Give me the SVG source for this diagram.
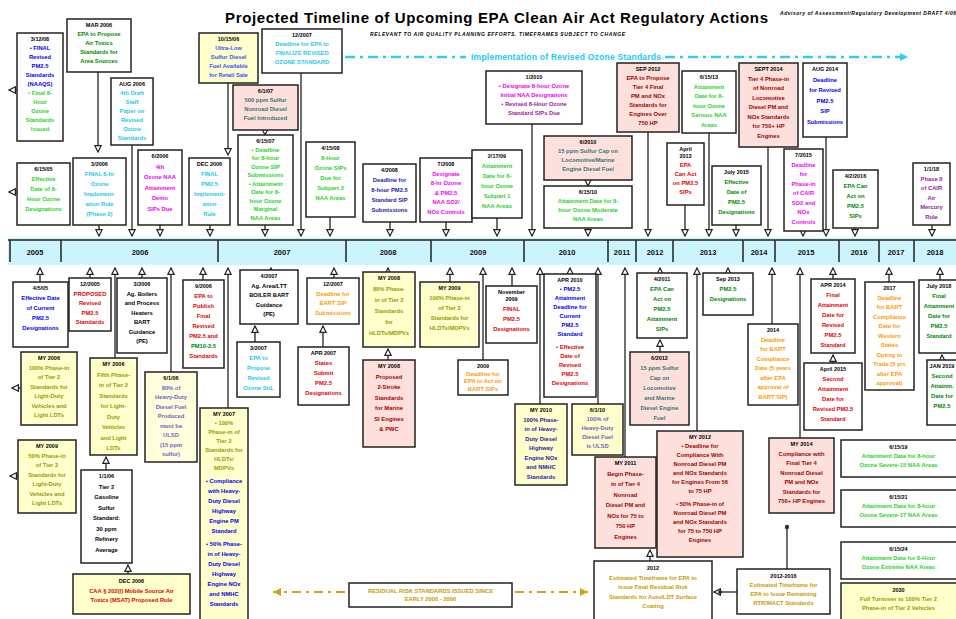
<svg xmlns="http://www.w3.org/2000/svg" width="956" height="619" viewBox="0 0 956 619">
<style>
.bx{fill:#fff;stroke:#222;stroke-width:1.5}
.yl{fill:#ffffcc}
.ly{fill:#ffffdc}
.pk{fill:#fde0dc}
text{font-family:"Liberation Sans",Arial,sans-serif;font-weight:bold;text-anchor:middle;font-size:5.8px}
.h{fill:#000;font-size:5.5px}
.blk{fill:#000}.blu{fill:#0000ee}.bl2{fill:#3355ff}.nav{fill:#1a1aaa}.grn{fill:#1fd41f}.dgn{fill:#008800}.cyn{fill:#22c8ee}.mag{fill:#ee00ee}.red{fill:#e00000}.drd{fill:#a00000}.org{fill:#ff9900}.olv{fill:#999900}.pur{fill:#992299}.tea{fill:#337777}.gld{fill:#c99a00}.slb{fill:#6666cc}
.yr{font-size:7.5px;fill:#111}
.cn{fill:none;stroke:#333;stroke-width:1.4}
</style>
<defs>
<marker id="ah" viewBox="0 0 10 10" refX="9" refY="5" markerWidth="8" markerHeight="8" markerUnits="userSpaceOnUse" orient="auto"><path d="M1,1 L9,5 L1,9 Z" fill="#fff" stroke="#222" stroke-width="1.5"/></marker>
<marker id="ag" viewBox="0 0 10 10" refX="9" refY="5" markerWidth="10" markerHeight="10" markerUnits="userSpaceOnUse" orient="auto"><path d="M1,1 L9,5 L1,9 Z" fill="#d4a017"/></marker>
<marker id="ac" viewBox="0 0 10 10" refX="9" refY="5" markerWidth="10" markerHeight="10" markerUnits="userSpaceOnUse" orient="auto"><path d="M1,1 L9,5 L1,9 Z" fill="#33ccee"/></marker>
</defs>
<rect width="956" height="619" fill="#fff"/>
<text x="225" y="23" style="font-size:15px;text-anchor:start" textLength="543" class="blk">Projected Timeline of Upcoming EPA Clean Air Act Regulatory Actions</text>
<text x="780" y="15" style="font-size:5px;text-anchor:start;font-style:italic" textLength="176" class="blk">Advisory of Assessment/Regulatory Development DRAFT 4/06</text>
<text x="370" y="36" style="font-size:5px;text-anchor:start;font-style:italic" textLength="255" class="blk">RELEVANT TO AIR QUALITY PLANNING EFFORTS.   TIMEFRAMES SUBJECT TO CHANGE</text>
<g id="ozone-impl">
<path d="M345,57 H466" stroke="#33ccee" stroke-width="2.5" stroke-dasharray="10 5 3 5" fill="none"/>
<text x="566" y="60" style="font-size:8.5px" class="cyn" textLength="190">Implementation of Revised Ozone Standards</text>
<path d="M665,57 H908" stroke="#33ccee" stroke-width="2.5" stroke-dasharray="10 5 3 5" fill="none" marker-end="url(#ac)"/>
</g>
<g id="timeline">
<rect x="8" y="238" width="948" height="27" fill="#ccf4fc"/>
<path d="M8,240 H956 M10,240 V262 M61,240 V262 M218,240 V262 M346,240 V262 M431,240 V262 M524,240 V262 M608,240 V262 M636,240 V262 M673,240 V262 M743,240 V262 M775,240 V262 M839,240 V262 M879,240 V262 M914,240 V262" stroke="#222" stroke-width="1.5" fill="none"/>
<text class="yr" x="35" y="255">2005</text><text class="yr" x="140" y="255">2006</text><text class="yr" x="282" y="255">2007</text><text class="yr" x="388" y="255">2008</text><text class="yr" x="478" y="255">2009</text><text class="yr" x="567" y="255">2010</text><text class="yr" x="622" y="255">2011</text><text class="yr" x="655" y="255">2012</text><text class="yr" x="708" y="255">2013</text><text class="yr" x="759" y="255">2014</text><text class="yr" x="806" y="255">2015</text><text class="yr" x="859" y="255">2016</text><text class="yr" x="896" y="255">2017</text><text class="yr" x="935" y="255">2018</text>
</g>
<g id="connectors">
<path class="cn" marker-end="url(#ah)" d="M98,72 V152"/>
<path class="cn" marker-end="url(#ah)" d="M99,225 V236"/>
<path class="cn" marker-end="url(#ah)" d="M132,145 V236"/>
<path class="cn" marker-end="url(#ah)" d="M160,225 V236"/>
<path class="cn" marker-end="url(#ah)" d="M210,225 V236"/>
<path class="cn" marker-end="url(#ah)" d="M228,83 V155"/>
<path class="cn" marker-end="url(#ah)" d="M265,130 V135"/>
<path class="cn" marker-end="url(#ah)" d="M265,225 V236"/>
<path class="cn" marker-end="url(#ah)" d="M301,73 V236"/>
<path class="cn" marker-end="url(#ah)" d="M330,217 V236"/>
<path class="cn" marker-end="url(#ah)" d="M390,222 V236"/>
<path class="cn" marker-end="url(#ah)" d="M446,222 V236"/>
<path class="cn" marker-end="url(#ah)" d="M497,218 V236"/>
<path class="cn" marker-end="url(#ah)" d="M532,124 V236"/>
<path class="cn" marker-end="url(#ah)" d="M588,180 V186"/>
<path class="cn" marker-end="url(#ah)" d="M588,228 V236"/>
<path class="cn" marker-end="url(#ah)" d="M648,132 V236"/>
<path class="cn" marker-end="url(#ah)" d="M685,205 V236"/>
<path class="cn" marker-end="url(#ah)" d="M709,133 V236"/>
<path class="cn" marker-end="url(#ah)" d="M736,225 V236"/>
<path class="cn" marker-end="url(#ah)" d="M768,147 V236"/>
<path class="cn" marker-end="url(#ah)" d="M803,231 V236"/>
<path class="cn" marker-end="url(#ah)" d="M826,137 V236"/>
<path class="cn" marker-end="url(#ah)" d="M855,228 V236"/>
<path class="cn" marker-end="url(#ah)" d="M932,225 V236"/>
<path class="cn" marker-end="url(#ah)" d="M17,90 H9"/>
<path class="cn" marker-end="url(#ah)" d="M17,192 H9"/>
<path class="cn" marker-end="url(#ah)" d="M21,388 H12"/>
<path class="cn" marker-end="url(#ah)" d="M18,476 H10"/>
<path class="cn" marker-end="url(#ah)" d="M40,282 V268"/>
<path class="cn" marker-end="url(#ah)" d="M90,278 V268"/>
<path class="cn" marker-end="url(#ah)" d="M115,358 V268"/>
<path class="cn" marker-end="url(#ah)" d="M142,278 V268"/>
<path class="cn" marker-end="url(#ah)" d="M171,372 V268"/>
<path class="cn" marker-end="url(#ah)" d="M203,280 V268"/>
<path class="cn" marker-end="url(#ah)" d="M228,408 V268"/>
<path class="cn" marker-end="url(#ah)" d="M271,270 V268"/>
<path class="cn" marker-end="url(#ah)" d="M255,342 V326"/>
<path class="cn" marker-end="url(#ah)" d="M323,347 V326"/>
<path class="cn" marker-end="url(#ah)" d="M334,278 V268"/>
<path class="cn" marker-end="url(#ah)" d="M388,272 V268"/>
<path class="cn" marker-end="url(#ah)" d="M388,360 V349"/>
<path class="cn" marker-end="url(#ah)" d="M450,282 V268"/>
<path class="cn" marker-end="url(#ah)" d="M483,360 V268"/>
<path class="cn" marker-end="url(#ah)" d="M512,286 V268"/>
<path class="cn" marker-end="url(#ah)" d="M540,404 V268"/>
<path class="cn" marker-end="url(#ah)" d="M570,274 V268"/>
<path class="cn" marker-end="url(#ah)" d="M598,404 V268"/>
<path class="cn" marker-end="url(#ah)" d="M625,457 V268"/>
<path class="cn" marker-end="url(#ah)" d="M660,273 V268"/>
<path class="cn" marker-end="url(#ah)" d="M660,352 V340"/>
<path class="cn" marker-end="url(#ah)" d="M697,431 V268"/>
<path class="cn" marker-end="url(#ah)" d="M728,273 V268"/>
<path class="cn" marker-end="url(#ah)" d="M772,324 V268"/>
<path class="cn" marker-end="url(#ah)" d="M800,438 V268"/>
<path class="cn" marker-end="url(#ah)" d="M833,279 V268"/>
<path class="cn" marker-end="url(#ah)" d="M833,363 V355"/>
<path class="cn" marker-end="url(#ah)" d="M889,282 V268"/>
<path class="cn" marker-end="url(#ah)" d="M940,280 V268"/>
<path class="cn" marker-end="url(#ah)" d="M942,360 V355"/>
<path class="cn" marker-end="url(#ah)" d="M106,470 V457"/>
<path class="cn" marker-end="url(#ah)" d="M128,574 V565"/>
<path class="cn" marker-end="url(#ah)" d="M650,561 V550"/>
<path class="cn" d="M787,569 V527"/>
<circle cx="787" cy="527" r="2.2" fill="#333"/>
<path class="cn" marker-end="url(#ah)" d="M737,592 H714"/>
<circle cx="720" cy="592" r="2" fill="#333"/>
<path d="M345,592 H273" fill="none" stroke="#d4a017" stroke-width="2" stroke-dasharray="9 5 3 5" marker-end="url(#ag)"/>
<path d="M515,592 H588" fill="none" stroke="#d4a017" stroke-width="2" stroke-dasharray="9 5 3 5" marker-end="url(#ag)"/>
</g>
<g id="t1"><rect class="bx" x="17" y="33" width="46" height="108"/><text x="40" y="41"><tspan class="h">3/12/08</tspan><tspan class="blu" x="40" dy="9">• FINAL</tspan><tspan class="blu" x="40" dy="9">Revised</tspan><tspan class="blu" x="40" dy="9">PM2.5</tspan><tspan class="blu" x="40" dy="9">Standards</tspan><tspan class="blu" x="40" dy="9">(NAAQS)</tspan><tspan class="grn" x="40" dy="9">• Final 8-</tspan><tspan class="grn" x="40" dy="9">Hour</tspan><tspan class="grn" x="40" dy="9">Ozone</tspan><tspan class="grn" x="40" dy="9">Standards</tspan><tspan class="grn" x="40" dy="9">Issued</tspan></text></g>
<g id="t2"><rect class="bx" x="67" y="19" width="64" height="53"/><text x="99" y="27"><tspan class="h">MAR 2006</tspan><tspan class="dgn" x="99" dy="9">EPA to Propose</tspan><tspan class="dgn" x="99" dy="9">Air Toxics</tspan><tspan class="dgn" x="99" dy="9">Standards for</tspan><tspan class="dgn" x="99" dy="9">Area Sources</tspan></text></g>
<g id="t3"><rect class="bx" x="111" y="78" width="42" height="67"/><text x="132" y="86"><tspan class="h">AUG 2006</tspan><tspan class="cyn" x="132" dy="9">4th Draft</tspan><tspan class="cyn" x="132" dy="9">Staff</tspan><tspan class="cyn" x="132" dy="9">Paper on</tspan><tspan class="cyn" x="132" dy="9">Revised</tspan><tspan class="cyn" x="132" dy="9">Ozone</tspan><tspan class="cyn" x="132" dy="9">Standards</tspan></text></g>
<g id="t4"><rect class="bx yl" x="199" y="33" width="59" height="50"/><text x="228.5" y="41"><tspan class="h">10/15/06</tspan><tspan class="bl2" x="228.5" dy="9">Ultra-Low</tspan><tspan class="bl2" x="228.5" dy="9">Sulfur Diesel</tspan><tspan class="bl2" x="228.5" dy="9">Fuel Available</tspan><tspan class="bl2" x="228.5" dy="9">for Retail Sale</tspan></text></g>
<g id="t5"><rect class="bx" x="262" y="29" width="80" height="44"/><text x="302" y="37"><tspan class="h">12/2007</tspan><tspan class="cyn" x="302" dy="9">Deadline for EPA to</tspan><tspan class="cyn" x="302" dy="9">FINALIZE REVISED</tspan><tspan class="cyn" x="302" dy="9">OZONE STANDARD</tspan></text></g>
<g id="t6"><rect class="bx pk" x="233" y="85" width="65" height="45"/><text x="265.5" y="93"><tspan class="h">6/1/07</tspan><tspan class="tea" x="265.5" dy="9">500 ppm Sulfur</tspan><tspan class="tea" x="265.5" dy="9">Nonroad Diesel</tspan><tspan class="tea" x="265.5" dy="9">Fuel Introduced</tspan></text></g>
<g id="t7"><rect class="bx" x="238" y="135" width="55" height="90"/><text x="265.5" y="143"><tspan class="h">6/15/07</tspan><tspan class="grn" x="265.5" dy="8.5">• Deadline</tspan><tspan class="grn" x="265.5" dy="8.5">for 8-hour</tspan><tspan class="grn" x="265.5" dy="8.5">Ozone SIP</tspan><tspan class="grn" x="265.5" dy="8.5">Submissions</tspan><tspan class="grn" x="265.5" dy="8.5">• Attainment</tspan><tspan class="grn" x="265.5" dy="8.5">Date for 8-</tspan><tspan class="grn" x="265.5" dy="8.5">hour Ozone</tspan><tspan class="grn" x="265.5" dy="8.5">Marginal</tspan><tspan class="grn" x="265.5" dy="8.5">NAA Areas</tspan></text></g>
<g id="t8"><rect class="bx" x="306" y="142" width="49" height="75"/><text x="330.5" y="150"><tspan class="h">4/15/08</tspan><tspan class="grn" x="330.5" dy="10">8-Hour</tspan><tspan class="grn" x="330.5" dy="10">Ozone SIPs</tspan><tspan class="grn" x="330.5" dy="10">Due for</tspan><tspan class="grn" x="330.5" dy="10">Subpart 2</tspan><tspan class="grn" x="330.5" dy="10">NAA Areas</tspan></text></g>
<g id="t9"><rect class="bx" x="363" y="164" width="53" height="58"/><text x="389.5" y="172"><tspan class="h">4/2008</tspan><tspan class="nav" x="389.5" dy="10">Deadline for</tspan><tspan class="nav" x="389.5" dy="10">8-hour PM2.5</tspan><tspan class="nav" x="389.5" dy="10">Standard SIP</tspan><tspan class="nav" x="389.5" dy="10">Submissions</tspan></text></g>
<g id="t10"><rect class="bx" x="420" y="158" width="52" height="64"/><text x="446" y="166"><tspan class="h">7/2008</tspan><tspan class="mag" x="446" dy="9.5">Designate</tspan><tspan class="mag" x="446" dy="9.5">8-hr Ozone</tspan><tspan class="mag" x="446" dy="9.5">&amp; PM2.5</tspan><tspan class="mag" x="446" dy="9.5">NAA SO2/</tspan><tspan class="mag" x="446" dy="9.5">NOx Controls</tspan></text></g>
<g id="t11"><rect class="bx" x="472" y="150" width="50" height="68"/><text x="497" y="158"><tspan class="h">2/17/09</tspan><tspan class="grn" x="497" dy="10">Attainment</tspan><tspan class="grn" x="497" dy="10">Date for 8-</tspan><tspan class="grn" x="497" dy="10">hour Ozone</tspan><tspan class="grn" x="497" dy="10">Subpart 1</tspan><tspan class="grn" x="497" dy="10">NAA Areas</tspan></text></g>
<g id="t12"><rect class="bx" x="486" y="71" width="96" height="53"/><text x="534" y="79"><tspan class="h">1/2010</tspan><tspan class="mag" x="534" dy="9">• Designate 8-hour Ozone</tspan><tspan class="mag" x="534" dy="9">Initial NAA Designations</tspan><tspan class="pur" x="534" dy="9">• Revised 8-Hour Ozone</tspan><tspan class="pur" x="534" dy="9">Standard SIPs Due</tspan></text></g>
<g id="t13"><rect class="bx pk" x="544" y="136" width="88" height="44"/><text x="588" y="144"><tspan class="h">6/2010</tspan><tspan class="tea" x="588" dy="9">15 ppm Sulfur Cap on</tspan><tspan class="tea" x="588" dy="9">Locomotive/Marine</tspan><tspan class="tea" x="588" dy="9">Engine Diesel Fuel</tspan></text></g>
<g id="t14"><rect class="bx" x="544" y="186" width="88" height="42"/><text x="588" y="194"><tspan class="h">6/15/10</tspan><tspan class="grn" x="588" dy="9">Attainment Date for 8-</tspan><tspan class="grn" x="588" dy="9">hour Ozone Moderate</tspan><tspan class="grn" x="588" dy="9">NAA Areas</tspan></text></g>
<g id="t15"><rect class="bx pk" x="617" y="63" width="62" height="69"/><text x="648" y="71"><tspan class="h">SEP 2012</tspan><tspan class="drd" x="648" dy="9">EPA to Propose</tspan><tspan class="drd" x="648" dy="9">Tier 4 Final</tspan><tspan class="drd" x="648" dy="9">PM and NOx</tspan><tspan class="drd" x="648" dy="9">Standards for</tspan><tspan class="drd" x="648" dy="9">Engines Over</tspan><tspan class="drd" x="648" dy="9">750 HP</tspan></text></g>
<g id="t16"><rect class="bx" x="682" y="71" width="54" height="62"/><text x="709" y="79"><tspan class="h">6/15/13</tspan><tspan class="grn" x="709" dy="9.5">Attainment</tspan><tspan class="grn" x="709" dy="9.5">Date for 8-</tspan><tspan class="grn" x="709" dy="9.5">hour Ozone</tspan><tspan class="grn" x="709" dy="9.5">Serious NAA</tspan><tspan class="grn" x="709" dy="9.5">Areas</tspan></text></g>
<g id="t17"><rect class="bx" x="667" y="143" width="37" height="62"/><text x="685.5" y="151"><tspan class="h">April</tspan><tspan class="h" x="685.5" dy="7">2013</tspan><tspan class="red" x="685.5" dy="9">EPA</tspan><tspan class="red" x="685.5" dy="9">Can Act</tspan><tspan class="red" x="685.5" dy="9">on PM2.5</tspan><tspan class="red" x="685.5" dy="9">SIPs</tspan></text></g>
<g id="t18"><rect class="bx pk" x="739" y="63" width="59" height="84"/><text x="768.5" y="71"><tspan class="h">SEPT 2014</tspan><tspan class="drd" x="768.5" dy="9.5">Tier 4 Phase-in</tspan><tspan class="drd" x="768.5" dy="9.5">of Nonroad</tspan><tspan class="drd" x="768.5" dy="9.5">Locomotive</tspan><tspan class="drd" x="768.5" dy="9.5">Diesel PM and</tspan><tspan class="drd" x="768.5" dy="9.5">NOx Standards</tspan><tspan class="drd" x="768.5" dy="9.5">for 750+ HP</tspan><tspan class="drd" x="768.5" dy="9.5">Engines</tspan></text></g>
<g id="t19"><rect class="bx" x="803" y="63" width="44" height="74"/><text x="825" y="71"><tspan class="h">AUG 2014</tspan><tspan class="blu" x="825" dy="10.5">Deadline</tspan><tspan class="blu" x="825" dy="10.5">for Revised</tspan><tspan class="blu" x="825" dy="10.5">PM2.5</tspan><tspan class="blu" x="825" dy="10.5">SIP</tspan><tspan class="blu" x="825" dy="10.5">Submissions</tspan></text></g>
<g id="t20"><rect class="bx" x="784" y="149" width="39" height="82"/><text x="803.5" y="157"><tspan class="h">7/2015</tspan><tspan class="mag" x="803.5" dy="9.5">Deadline</tspan><tspan class="mag" x="803.5" dy="9.5">for</tspan><tspan class="mag" x="803.5" dy="9.5">Phase-in</tspan><tspan class="mag" x="803.5" dy="9.5">of CAIR</tspan><tspan class="mag" x="803.5" dy="9.5">SO2 and</tspan><tspan class="mag" x="803.5" dy="9.5">NOx</tspan><tspan class="mag" x="803.5" dy="9.5">Controls</tspan></text></g>
<g id="t21"><rect class="bx" x="712" y="166" width="49" height="59"/><text x="736.5" y="174"><tspan class="h">July 2015</tspan><tspan class="dgn" x="736.5" dy="10">Effective</tspan><tspan class="dgn" x="736.5" dy="10">Date of</tspan><tspan class="dgn" x="736.5" dy="10">PM2.5</tspan><tspan class="dgn" x="736.5" dy="10">Designations</tspan></text></g>
<g id="t22"><rect class="bx" x="833" y="170" width="45" height="58"/><text x="855.5" y="178"><tspan class="h">4/2/2016</tspan><tspan class="dgn" x="855.5" dy="10">EPA Can</tspan><tspan class="dgn" x="855.5" dy="10">Act on</tspan><tspan class="dgn" x="855.5" dy="10">PM2.5</tspan><tspan class="dgn" x="855.5" dy="10">SIPs</tspan></text></g>
<g id="t23"><rect class="bx" x="913" y="163" width="37" height="62"/><text x="931.5" y="171"><tspan class="h">1/1/18</tspan><tspan class="pur" x="931.5" dy="9.5">Phase II</tspan><tspan class="pur" x="931.5" dy="9.5">of CAIR</tspan><tspan class="pur" x="931.5" dy="9.5">Air</tspan><tspan class="pur" x="931.5" dy="9.5">Mercury</tspan><tspan class="pur" x="931.5" dy="9.5">Rule</tspan></text></g>
<g id="t24"><rect class="bx" x="17" y="163" width="53" height="62"/><text x="43.5" y="171"><tspan class="h">6/15/05</tspan><tspan class="grn" x="43.5" dy="10">Effective</tspan><tspan class="grn" x="43.5" dy="10">Date of 8-</tspan><tspan class="grn" x="43.5" dy="10">Hour Ozone</tspan><tspan class="grn" x="43.5" dy="10">Designations</tspan></text></g>
<g id="t25"><rect class="bx" x="73" y="158" width="53" height="67"/><text x="99.5" y="166"><tspan class="h">3/2006</tspan><tspan class="cyn" x="99.5" dy="10">FINAL 8-hr</tspan><tspan class="cyn" x="99.5" dy="10">Ozone</tspan><tspan class="cyn" x="99.5" dy="10">Implement-</tspan><tspan class="cyn" x="99.5" dy="10">ation Rule</tspan><tspan class="cyn" x="99.5" dy="10">(Phase 2)</tspan></text></g>
<g id="t26"><rect class="bx" x="138" y="150" width="44" height="75"/><text x="160" y="158"><tspan class="h">6/2006</tspan><tspan class="mag" x="160" dy="10.5">4th</tspan><tspan class="mag" x="160" dy="10.5">Ozone NAA</tspan><tspan class="mag" x="160" dy="10.5">Attainment</tspan><tspan class="mag" x="160" dy="10.5">Demo</tspan><tspan class="mag" x="160" dy="10.5">SIPs Due</tspan></text></g>
<g id="t27"><rect class="bx" x="189" y="158" width="41" height="67"/><text x="209.5" y="166"><tspan class="h">DEC 2006</tspan><tspan class="cyn" x="209.5" dy="10">FINAL</tspan><tspan class="cyn" x="209.5" dy="10">PM2.5</tspan><tspan class="cyn" x="209.5" dy="10">Implement-</tspan><tspan class="cyn" x="209.5" dy="10">ation</tspan><tspan class="cyn" x="209.5" dy="10">Rule</tspan></text></g>
<g id="b1"><rect class="bx" x="13" y="282" width="55" height="65"/><text x="40.5" y="290"><tspan class="h">4/5/05</tspan><tspan class="blu" x="40.5" dy="10">Effective Date</tspan><tspan class="blu" x="40.5" dy="10">of Current</tspan><tspan class="blu" x="40.5" dy="10">PM2.5</tspan><tspan class="blu" x="40.5" dy="10">Designations</tspan></text></g>
<g id="b2"><rect class="bx" x="69" y="278" width="42" height="53"/><text x="90" y="286"><tspan class="h">12/2005</tspan><tspan class="red" x="90" dy="9.5">PROPOSED</tspan><tspan class="red" x="90" dy="9.5">Revised</tspan><tspan class="red" x="90" dy="9.5">PM2.5</tspan><tspan class="red" x="90" dy="9.5">Standards</tspan></text></g>
<g id="b3"><rect class="bx" x="117" y="278" width="50" height="75"/><text x="142" y="286"><tspan class="h">3/2006</tspan><tspan class="blk" x="142" dy="9.5">Ag. Boilers</tspan><tspan class="blk" x="142" dy="9.5">and Process</tspan><tspan class="blk" x="142" dy="9.5">Heaters</tspan><tspan class="blk" x="142" dy="9.5">BART</tspan><tspan class="blk" x="142" dy="9.5">Guidance</tspan><tspan class="blk" x="142" dy="9.5">(PE)</tspan></text></g>
<g id="b4"><rect class="bx" x="183" y="280" width="41" height="88"/><text x="203.5" y="288"><tspan class="h">9/2006</tspan><tspan class="red" x="203.5" dy="10">EPA to</tspan><tspan class="red" x="203.5" dy="10">Publish</tspan><tspan class="red" x="203.5" dy="10">Final</tspan><tspan class="red" x="203.5" dy="10">Revised</tspan><tspan class="red" x="203.5" dy="10">PM2.5 and</tspan><tspan class="dgn" x="203.5" dy="10">PM10-2.5</tspan><tspan class="red" x="203.5" dy="10">Standards</tspan></text></g>
<g id="b5"><rect class="bx yl" x="90" y="358" width="47" height="97"/><text x="113.5" y="366"><tspan class="h">MY 2006</tspan><tspan class="olv" x="113.5" dy="10.5">Fifth Phase-</tspan><tspan class="olv" x="113.5" dy="10.5">in of Tier 2</tspan><tspan class="olv" x="113.5" dy="10.5">Standards</tspan><tspan class="olv" x="113.5" dy="10.5">for Light-</tspan><tspan class="olv" x="113.5" dy="10.5">Duty</tspan><tspan class="olv" x="113.5" dy="10.5">Vehicles</tspan><tspan class="olv" x="113.5" dy="10.5">and Light</tspan><tspan class="olv" x="113.5" dy="10.5">LDTs</tspan></text></g>
<g id="b6"><rect class="bx yl" x="21" y="352" width="56" height="73"/><text x="49" y="360"><tspan class="h">MY 2006</tspan><tspan class="olv" x="49" dy="9.5">100% Phase-in</tspan><tspan class="olv" x="49" dy="9.5">of Tier 2</tspan><tspan class="olv" x="49" dy="9.5">Standards for</tspan><tspan class="olv" x="49" dy="9.5">Light-Duty</tspan><tspan class="olv" x="49" dy="9.5">Vehicles and</tspan><tspan class="olv" x="49" dy="9.5">Light LDTs</tspan></text></g>
<g id="b7"><rect class="bx ly" x="145" y="372" width="52" height="90"/><text x="171" y="380"><tspan class="h">6/1/06</tspan><tspan class="slb" x="171" dy="9.5">80% of</tspan><tspan class="slb" x="171" dy="9.5">Heavy-Duty</tspan><tspan class="slb" x="171" dy="9.5">Diesel Fuel</tspan><tspan class="slb" x="171" dy="9.5">Produced</tspan><tspan class="slb" x="171" dy="9.5">must be</tspan><tspan class="slb" x="171" dy="9.5">ULSD</tspan><tspan class="slb" x="171" dy="9.5">(15 ppm</tspan><tspan class="slb" x="171" dy="9.5">sulfur)</tspan></text></g>
<g id="b8"><rect class="bx yl" x="200" y="408" width="48" height="215"/><text x="224" y="416"><tspan class="h">MY 2007</tspan><tspan class="olv" x="224" dy="9">• 100%</tspan><tspan class="olv" x="224" dy="9">Phase-in of</tspan><tspan class="olv" x="224" dy="9">Tier 2</tspan><tspan class="olv" x="224" dy="9">Standards for</tspan><tspan class="olv" x="224" dy="9">HLDTs/</tspan><tspan class="olv" x="224" dy="9">MDPVs</tspan><tspan class="blu" x="224" dy="13">• Compliance</tspan><tspan class="blu" x="224" dy="10">with Heavy-</tspan><tspan class="blu" x="224" dy="10">Duty Diesel</tspan><tspan class="blu" x="224" dy="10">Highway</tspan><tspan class="blu" x="224" dy="10">Engine PM</tspan><tspan class="blu" x="224" dy="10">Standard</tspan><tspan class="blu" x="224" dy="13">• 50% Phase-</tspan><tspan class="blu" x="224" dy="10">in of Heavy-</tspan><tspan class="blu" x="224" dy="10">Duty Diesel</tspan><tspan class="blu" x="224" dy="10">Highway</tspan><tspan class="blu" x="224" dy="10">Engine NOx</tspan><tspan class="blu" x="224" dy="10">and NMHC</tspan><tspan class="blu" x="224" dy="10">Standards</tspan></text></g>
<g id="b9"><rect class="bx yl" x="18" y="440" width="58" height="73"/><text x="47" y="448"><tspan class="h">MY 2009</tspan><tspan class="olv" x="47" dy="9.5">50% Phase-in</tspan><tspan class="olv" x="47" dy="9.5">of Tier 2</tspan><tspan class="olv" x="47" dy="9.5">Standards for</tspan><tspan class="olv" x="47" dy="9.5">Light-Duty</tspan><tspan class="olv" x="47" dy="9.5">Vehicles and</tspan><tspan class="olv" x="47" dy="9.5">Light LDTs</tspan></text></g>
<g id="b10"><rect class="bx" x="81" y="470" width="51" height="93"/><text x="106.5" y="478"><tspan class="h">1/1/06</tspan><tspan class="blk" x="106.5" dy="10.5">Tier 2</tspan><tspan class="blk" x="106.5" dy="10.5">Gasoline</tspan><tspan class="blk" x="106.5" dy="10.5">Sulfur</tspan><tspan class="blk" x="106.5" dy="10.5">Standard:</tspan><tspan class="blk" x="106.5" dy="10.5">30 ppm</tspan><tspan class="blk" x="106.5" dy="10.5">Refinery</tspan><tspan class="blk" x="106.5" dy="10.5">Average</tspan></text></g>
<g id="b11"><rect class="bx yl" x="73" y="574" width="117" height="40"/><text x="131.5" y="583"><tspan class="h">DEC 2006</tspan><tspan class="red" x="131.5" dy="9.5">CAA § 202(l) Mobile Source Air</tspan><tspan class="red" x="131.5" dy="9.5">Toxics (MSAT) Proposed Rule</tspan></text></g>
<g id="b12"><rect class="bx" x="240" y="270" width="58" height="54"/><text x="269" y="278"><tspan class="h">4/2007</tspan><tspan class="blk" x="269" dy="9.5">Ag. Area/LTT</tspan><tspan class="blk" x="269" dy="9.5">BOILER BART</tspan><tspan class="blk" x="269" dy="9.5">Guidance</tspan><tspan class="blk" x="269" dy="9.5">(PE)</tspan></text></g>
<g id="b13"><rect class="bx" x="307" y="278" width="52" height="46"/><text x="333" y="286"><tspan class="h">12/2007</tspan><tspan class="org" x="333" dy="9.5">Deadline for</tspan><tspan class="org" x="333" dy="9.5">BART SIP</tspan><tspan class="org" x="333" dy="9.5">Submissions</tspan></text></g>
<g id="b14"><rect class="bx" x="237" y="342" width="43" height="55"/><text x="258.5" y="350"><tspan class="h">3/2007</tspan><tspan class="cyn" x="258.5" dy="10">EPA to</tspan><tspan class="cyn" x="258.5" dy="10">Propose</tspan><tspan class="cyn" x="258.5" dy="10">Revised</tspan><tspan class="cyn" x="258.5" dy="10">Ozone Std.</tspan></text></g>
<g id="b15"><rect class="bx" x="298" y="347" width="51" height="58"/><text x="323.5" y="355"><tspan class="h">APR 2007</tspan><tspan class="red" x="323.5" dy="10">States</tspan><tspan class="red" x="323.5" dy="10">Submit</tspan><tspan class="red" x="323.5" dy="10">PM2.5</tspan><tspan class="red" x="323.5" dy="10">Designations</tspan></text></g>
<g id="b16"><rect class="bx yl" x="363" y="272" width="52" height="75"/><text x="389" y="280"><tspan class="h">MY 2008</tspan><tspan class="olv" x="389" dy="11">80% Phase-</tspan><tspan class="olv" x="389" dy="11">in of Tier 2</tspan><tspan class="olv" x="389" dy="11">Standards</tspan><tspan class="olv" x="389" dy="11">for</tspan><tspan class="olv" x="389" dy="11">HLDTs/MDPVs</tspan></text></g>
<g id="b17"><rect class="bx pk" x="363" y="360" width="52" height="87"/><text x="389" y="368"><tspan class="h">MY 2008</tspan><tspan class="drd" x="389" dy="10.5">Proposed</tspan><tspan class="drd" x="389" dy="10.5">2-Stroke</tspan><tspan class="drd" x="389" dy="10.5">Standards</tspan><tspan class="drd" x="389" dy="10.5">for Marine</tspan><tspan class="drd" x="389" dy="10.5">SI Engines</tspan><tspan class="drd" x="389" dy="10.5">&amp; PWC</tspan></text></g>
<g id="b18"><rect class="bx yl" x="420" y="282" width="59" height="65"/><text x="449.5" y="290"><tspan class="h">MY 2009</tspan><tspan class="olv" x="449.5" dy="10">100% Phase-in</tspan><tspan class="olv" x="449.5" dy="10">of Tier 2</tspan><tspan class="olv" x="449.5" dy="10">Standards for</tspan><tspan class="olv" x="449.5" dy="10">HLDTs/MDPVs</tspan></text></g>
<g id="b19"><rect class="bx" x="458" y="360" width="50" height="35"/><text x="483" y="368"><tspan class="h">2009</tspan><tspan class="org" x="483" dy="7.5">Deadline for</tspan><tspan class="org" x="483" dy="7.5">EPA to Act on</tspan><tspan class="org" x="483" dy="7.5">BART SIPs</tspan></text></g>
<g id="b20"><rect class="bx" x="486" y="286" width="51" height="57"/><text x="511.5" y="294"><tspan class="h">November</tspan><tspan class="h" x="511.5" dy="7">2009</tspan><tspan class="red" x="511.5" dy="10">FINAL</tspan><tspan class="red" x="511.5" dy="10">PM2.5</tspan><tspan class="red" x="511.5" dy="10">Designations</tspan></text></g>
<g id="b21"><rect class="bx" x="544" y="274" width="52" height="123"/><text x="570" y="282"><tspan class="h">APR 2010</tspan><tspan class="blu" x="570" dy="9">• PM2.5</tspan><tspan class="blu" x="570" dy="9">Attainment</tspan><tspan class="blu" x="570" dy="9">Deadline for</tspan><tspan class="blu" x="570" dy="9">Current</tspan><tspan class="blu" x="570" dy="9">PM2.5</tspan><tspan class="blu" x="570" dy="9">Standard</tspan><tspan class="red" x="570" dy="13">• Effective</tspan><tspan class="red" x="570" dy="9">Date of</tspan><tspan class="red" x="570" dy="9">Revised</tspan><tspan class="red" x="570" dy="9">PM2.5</tspan><tspan class="red" x="570" dy="9">Designations</tspan></text></g>
<g id="b22"><rect class="bx yl" x="515" y="404" width="52" height="81"/><text x="541" y="412"><tspan class="h">MY 2010</tspan><tspan class="nav" x="541" dy="9.5">100% Phase-</tspan><tspan class="nav" x="541" dy="9.5">in of Heavy-</tspan><tspan class="nav" x="541" dy="9.5">Duty Diesel</tspan><tspan class="nav" x="541" dy="9.5">Highway</tspan><tspan class="nav" x="541" dy="9.5">Engine NOx</tspan><tspan class="nav" x="541" dy="9.5">and NMHC</tspan><tspan class="nav" x="541" dy="9.5">Standards</tspan></text></g>
<g id="b23"><rect class="bx yl" x="572" y="404" width="51" height="51"/><text x="597.5" y="412"><tspan class="h">6/1/10</tspan><tspan class="slb" x="597.5" dy="9">100% of</tspan><tspan class="slb" x="597.5" dy="9">Heavy-Duty</tspan><tspan class="slb" x="597.5" dy="9">Diesel Fuel</tspan><tspan class="slb" x="597.5" dy="9">is ULSD</tspan></text></g>
<g id="b24"><rect class="bx" x="637" y="273" width="50" height="65"/><text x="662" y="281"><tspan class="h">4/2011</tspan><tspan class="dgn" x="662" dy="10">EPA Can</tspan><tspan class="dgn" x="662" dy="10">Act on</tspan><tspan class="dgn" x="662" dy="10">PM2.5</tspan><tspan class="dgn" x="662" dy="10">Attainment</tspan><tspan class="dgn" x="662" dy="10">SIPs</tspan></text></g>
<g id="b25"><rect class="bx pk" x="630" y="352" width="59" height="73"/><text x="659.5" y="360"><tspan class="h">6/2012</tspan><tspan class="tea" x="659.5" dy="10">15 ppm Sulfur</tspan><tspan class="tea" x="659.5" dy="10">Cap on</tspan><tspan class="tea" x="659.5" dy="10">Locomotive</tspan><tspan class="tea" x="659.5" dy="10">and Marine</tspan><tspan class="tea" x="659.5" dy="10">Diesel Engine</tspan><tspan class="tea" x="659.5" dy="10">Fuel</tspan></text></g>
<g id="b26"><rect class="bx pk" x="595" y="457" width="61" height="91"/><text x="625.5" y="465"><tspan class="h">MY 2011</tspan><tspan class="drd" x="625.5" dy="10.5">Begin Phase-</tspan><tspan class="drd" x="625.5" dy="10.5">in of Tier 4</tspan><tspan class="drd" x="625.5" dy="10.5">Nonroad</tspan><tspan class="drd" x="625.5" dy="10.5">Diesel PM and</tspan><tspan class="drd" x="625.5" dy="10.5">NOx for 75 to</tspan><tspan class="drd" x="625.5" dy="10.5">750 HP</tspan><tspan class="drd" x="625.5" dy="10.5">Engines</tspan></text></g>
<g id="b27"><rect class="bx pk" x="657" y="431" width="86" height="126"/><text x="700" y="439"><tspan class="h">MY 2012</tspan><tspan class="drd" x="700" dy="9">• Deadline for</tspan><tspan class="drd" x="700" dy="9">Compliance With</tspan><tspan class="drd" x="700" dy="9">Nonroad Diesel PM</tspan><tspan class="drd" x="700" dy="9">and NOx Standards</tspan><tspan class="drd" x="700" dy="9">for Engines From 56</tspan><tspan class="drd" x="700" dy="9">to 75 HP</tspan><tspan class="drd" x="700" dy="13">• 50% Phase-in of</tspan><tspan class="drd" x="700" dy="9">Nonroad Diesel PM</tspan><tspan class="drd" x="700" dy="9">and NOx Standards</tspan><tspan class="drd" x="700" dy="9">for 75 to 750 HP</tspan><tspan class="drd" x="700" dy="9">Engines</tspan></text></g>
<g id="b28"><rect class="bx" x="594" y="561" width="118" height="62"/><text x="653" y="570"><tspan class="h">2012</tspan><tspan class="gld" x="653" dy="9.5">Estimated Timeframe for EPA to</tspan><tspan class="gld" x="653" dy="9.5">Issue Final Residual Risk</tspan><tspan class="gld" x="653" dy="9.5">Standards for Auto/LDT Surface</tspan><tspan class="gld" x="653" dy="9.5">Coating</tspan></text></g>
<g id="b29"><rect class="bx" x="703" y="273" width="50" height="42"/><text x="728" y="281"><tspan class="h">Sep 2013</tspan><tspan class="dgn" x="728" dy="10">PM2.5</tspan><tspan class="dgn" x="728" dy="10">Designations</tspan></text></g>
<g id="b30"><rect class="bx" x="748" y="324" width="50" height="81"/><text x="773" y="332"><tspan class="h">2014</tspan><tspan class="org" x="773" dy="9.5">Deadline</tspan><tspan class="org" x="773" dy="9.5">for BART</tspan><tspan class="org" x="773" dy="9.5">Compliance</tspan><tspan class="org" x="773" dy="9.5">Date (5 years</tspan><tspan class="org" x="773" dy="9.5">after EPA</tspan><tspan class="org" x="773" dy="9.5">approval of</tspan><tspan class="org" x="773" dy="9.5">BART SIP)</tspan></text></g>
<g id="b31"><rect class="bx" x="811" y="279" width="44" height="74"/><text x="833" y="287"><tspan class="h">APR 2014</tspan><tspan class="red" x="833" dy="10">Final</tspan><tspan class="red" x="833" dy="10">Attainment</tspan><tspan class="red" x="833" dy="10">Date for</tspan><tspan class="red" x="833" dy="10">Revised</tspan><tspan class="red" x="833" dy="10">PM2.5</tspan><tspan class="red" x="833" dy="10">Standard</tspan></text></g>
<g id="b32"><rect class="bx" x="804" y="363" width="58" height="67"/><text x="833" y="371"><tspan class="h">April 2015</tspan><tspan class="red" x="833" dy="10">Second</tspan><tspan class="red" x="833" dy="10">Attainment</tspan><tspan class="red" x="833" dy="10">Date for</tspan><tspan class="red" x="833" dy="10">Revised PM2.5</tspan><tspan class="red" x="833" dy="10">Standard</tspan></text></g>
<g id="b33"><rect class="bx" x="865" y="282" width="49" height="108"/><text x="889.5" y="290"><tspan class="h">2017</tspan><tspan class="org" x="889.5" dy="9.5">Deadline</tspan><tspan class="org" x="889.5" dy="9.5">for BART</tspan><tspan class="org" x="889.5" dy="9.5">Compliance</tspan><tspan class="org" x="889.5" dy="9.5">Date for</tspan><tspan class="org" x="889.5" dy="9.5">Western</tspan><tspan class="org" x="889.5" dy="9.5">States</tspan><tspan class="org" x="889.5" dy="9.5">Opting to</tspan><tspan class="org" x="889.5" dy="9.5">Trade (5 yrs</tspan><tspan class="org" x="889.5" dy="9.5">after EPA</tspan><tspan class="org" x="889.5" dy="9.5">approval)</tspan></text></g>
<g id="b34"><rect class="bx" x="919" y="280" width="42" height="73"/><text x="939" y="288"><tspan class="h">July 2018</tspan><tspan class="dgn" x="939" dy="10">Final</tspan><tspan class="dgn" x="939" dy="10">Attainment</tspan><tspan class="dgn" x="939" dy="10">Date for</tspan><tspan class="dgn" x="939" dy="10">PM2.5</tspan><tspan class="dgn" x="939" dy="10">Standard</tspan></text></g>
<g id="b35"><rect class="bx" x="927" y="360" width="40" height="65"/><text x="942" y="368"><tspan class="h">JAN 2019</tspan><tspan class="dgn" x="942" dy="10">Second</tspan><tspan class="dgn" x="942" dy="10">Attainm.</tspan><tspan class="dgn" x="942" dy="10">Date for</tspan><tspan class="dgn" x="942" dy="10">PM2.5</tspan></text></g>
<g id="b36"><rect class="bx pk" x="769" y="438" width="65" height="75"/><text x="801.5" y="446"><tspan class="h">MY 2014</tspan><tspan class="drd" x="801.5" dy="9.5">Compliance with</tspan><tspan class="drd" x="801.5" dy="9.5">Final Tier 4</tspan><tspan class="drd" x="801.5" dy="9.5">Nonroad Diesel</tspan><tspan class="drd" x="801.5" dy="9.5">PM and NOx</tspan><tspan class="drd" x="801.5" dy="9.5">Standards for</tspan><tspan class="drd" x="801.5" dy="9.5">750+ HP Engines</tspan></text></g>
<g id="b37"><rect class="bx" x="841" y="440" width="125" height="37"/><text x="898.5" y="449"><tspan class="h">6/15/19</tspan><tspan class="grn" x="898.5" dy="9">Attainment Date for 8-hour</tspan><tspan class="grn" x="898.5" dy="9">Ozone Severe-15 NAA Areas</tspan></text></g>
<g id="b38"><rect class="bx" x="841" y="490" width="125" height="37"/><text x="898.5" y="499"><tspan class="h">6/15/21</tspan><tspan class="grn" x="898.5" dy="9">Attainment Date for 8-hour</tspan><tspan class="grn" x="898.5" dy="9">Ozone Severe-17 NAA Areas</tspan></text></g>
<g id="b39"><rect class="bx" x="841" y="542" width="125" height="37"/><text x="898.5" y="551"><tspan class="h">6/15/24</tspan><tspan class="grn" x="898.5" dy="9">Attainment Date for 8-Hour</tspan><tspan class="grn" x="898.5" dy="9">Ozone Extreme NAA Areas</tspan></text></g>
<g id="b40"><rect class="bx yl" x="841" y="583" width="125" height="40"/><text x="898.5" y="592"><tspan class="h">2030</tspan><tspan class="olv" x="898.5" dy="9">Full Turnover to 100% Tier 2</tspan><tspan class="olv" x="898.5" dy="9">Phase-in of Tier 2 Vehicles</tspan></text></g>
<g id="b41"><rect class="bx" x="737" y="569" width="93" height="45"/><text x="783.5" y="578"><tspan class="h">2012-2016</tspan><tspan class="gld" x="783.5" dy="9">Estimated Timeframe for</tspan><tspan class="gld" x="783.5" dy="9">EPA to Issue Remaining</tspan><tspan class="gld" x="783.5" dy="9">RTR/MACT Standards</tspan></text></g>
<g id="b42"><rect class="bx" x="349" y="583" width="163" height="24"/><text x="430.5" y="593"><tspan class="gld">RESIDUAL RISK STANDARDS ISSUED SINCE</tspan><tspan class="gld" x="430.5" dy="8">EARLY 2000 - 2006</tspan></text></g>
</svg>
